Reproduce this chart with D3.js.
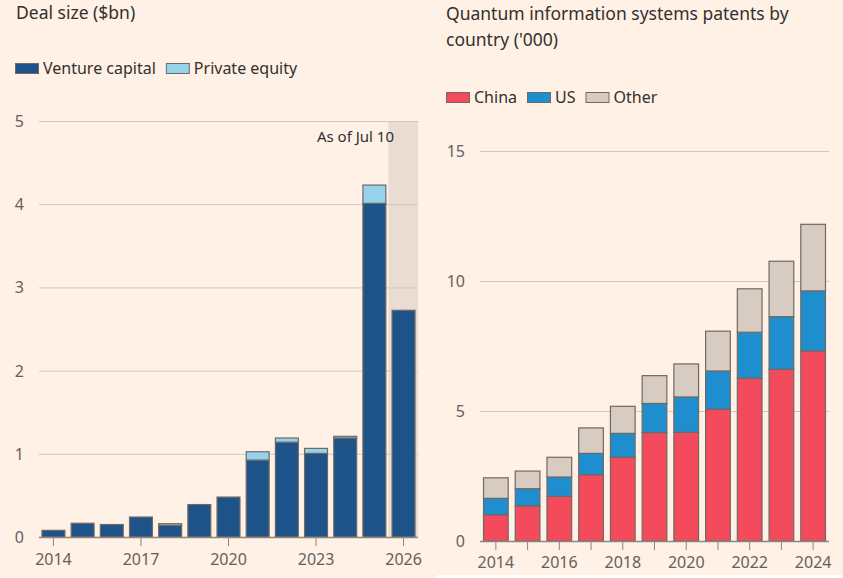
<!DOCTYPE html>
<html>
<head>
<meta charset="utf-8">
<script src="https://cdn.jsdelivr.net/npm/d3@7"></script>
<style>
  body { margin: 0; background: #fff1e5; }
  svg { display: block; font-family: "Noto Sans", sans-serif; }
</style>
</head>
<body>
<svg id="chart" width="843" height="578"></svg>
<script>
// ---- left chart data: deal size ($bn)
const dealYears = [2014, 2015, 2016, 2017, 2018, 2019, 2020, 2021, 2022, 2023, 2024, 2025, 2026];
const ventureCapital = [0.08, 0.165, 0.15, 0.24, 0.14, 0.39, 0.48, 0.925, 1.14, 1.005, 1.19, 4.01, 2.725];
const privateEquity = [0, 0, 0, 0, 0.02, 0, 0, 0.10, 0.05, 0.06, 0.02, 0.22, 0];
const dealTicks = [0, 1, 2, 3, 4, 5];
const dealYearLabels = [2014, 2017, 2020, 2023, 2026];

// ---- right chart data: patents ('000)
const patentYears = [2014, 2015, 2016, 2017, 2018, 2019, 2020, 2021, 2022, 2023, 2024];
const china = [1.01, 1.35, 1.72, 2.55, 3.22, 4.17, 4.18, 5.07, 6.26, 6.60, 7.31];
const us = [0.63, 0.66, 0.74, 0.82, 0.92, 1.12, 1.36, 1.47, 1.77, 2.03, 2.31];
const other = [0.79, 0.68, 0.76, 0.98, 1.04, 1.07, 1.27, 1.53, 1.67, 2.13, 2.56];
const patentTicks = [0, 5, 10, 15];
const patentYearLabels = [2014, 2016, 2018, 2020, 2022, 2024];

const textDark = "#33302e";
const textMid = "#66605c";
const gridCol = "#d3c7bd";
const barStroke = "#6f6963";

const svg = d3.select("#chart");

// white strip at the bottom of the right panel
svg.append("rect")
    .attr("x", 437).attr("y", 575)
    .attr("width", 406).attr("height", 3)
    .attr("fill", "#ffffff");

function drawLegend(g, items, x0, y0) {
    let x = x0;
    items.forEach(item => {
        g.append("rect")
            .attr("x", x + 0.5).attr("y", y0 + 0.5)
            .attr("width", 23).attr("height", 10)
            .attr("fill", item.color)
            .attr("stroke", barStroke)
            .attr("stroke-width", 1);
        const t = g.append("text")
            .attr("x", x + 28)
            .attr("y", y0 + 10.5)
            .attr("font-size", 16)
            .attr("fill", textDark)
            .text(item.label);
        x += 28 + t.node().getComputedTextLength() + item.gap;
    });
}

// ================= LEFT CHART =================
{
    const g = svg.append("g");
    const x = d3.scaleBand()
        .domain(dealYears)
        .range([39, 418])
        .paddingInner(0.18)
        .paddingOuter(0.085);
    const y = d3.scaleLinear().domain([0, 5]).range([537, 121]);

    g.append("text")
        .attr("x", 16).attr("y", 19)
        .attr("font-size", 17.5)
        .attr("fill", textDark)
        .text("Deal size ($bn)");

    drawLegend(g, [
        { label: "Venture capital", color: "#1d5389", gap: 10 },
        { label: "Private equity", color: "#96d3ea", gap: 10 }
    ], 15, 63);

    // shaded "as of" band behind last bar
    const lastYear = dealYears[dealYears.length - 1];
    const shadeX = x(lastYear) - x.step() * x.paddingInner() / 2 - 0.5;
    g.append("rect")
        .attr("x", shadeX)
        .attr("y", y(5))
        .attr("width", 418 - shadeX)
        .attr("height", y(0) - y(5))
        .attr("fill", "#e9dcd3");

    // gridlines + labels
    g.selectAll(".grid")
        .data(dealTicks.filter(d => d > 0))
        .enter().append("line")
        .attr("x1", 39).attr("x2", 418)
        .attr("y1", d => y(d) + 0.5).attr("y2", d => y(d) + 0.5)
        .attr("stroke", gridCol);
    g.selectAll(".ylab")
        .data(dealTicks)
        .enter().append("text")
        .attr("x", 24).attr("y", d => y(d) + 6)
        .attr("text-anchor", "end")
        .attr("font-size", 16)
        .attr("fill", textMid)
        .text(d => d);

    g.append("text")
        .attr("x", 394).attr("y", 141.5)
        .attr("text-anchor", "end")
        .attr("font-size", 15)
        .attr("fill", textDark)
        .text("As of Jul 10");

    const stack = d3.stack().keys(["vc", "pe"])(
        dealYears.map((yr, i) => ({ year: yr, vc: ventureCapital[i], pe: privateEquity[i] }))
    );
    const cols = { vc: "#1d5389", pe: "#96d3ea" };
    stack.forEach(layer => {
        g.selectAll(".bar-" + layer.key)
            .data(layer.filter(d => d[1] - d[0] > 0))
            .enter().append("rect")
            .attr("x", d => x(d.data.year) + 0.5)
            .attr("width", x.bandwidth() - 1)
            .attr("y", d => y(d[1]))
            .attr("height", d => y(d[0]) - y(d[1]))
            .attr("fill", cols[layer.key])
            .attr("stroke", barStroke)
            .attr("stroke-width", 1.2);
    });

    // x axis
    g.append("line")
        .attr("x1", 39).attr("x2", 418)
        .attr("y1", y(0) + 0.5).attr("y2", y(0) + 0.5)
        .attr("stroke", "#8d8580").attr("stroke-width", 1.5);
    const ticks = g.selectAll(".xt")
        .data(dealYearLabels)
        .enter().append("g")
        .attr("transform", d => `translate(${x(d) + x.bandwidth() / 2},${y(0)})`);
    ticks.append("line").attr("y1", 1).attr("y2", 9).attr("stroke", "#8d8580");
    ticks.append("text")
        .attr("y", 28)
        .attr("text-anchor", "middle")
        .attr("font-size", 16)
        .attr("fill", textMid)
        .text(d => d);
}

// ================= RIGHT CHART =================
{
    const g = svg.append("g");
    const x = d3.scaleBand()
        .domain(patentYears)
        .range([480, 829])
        .paddingInner(0.19)
        .paddingOuter(0.095);
    const y = d3.scaleLinear().domain([0, 15]).range([541, 151]);

    g.append("text")
        .attr("x", 446).attr("y", 20)
        .attr("font-size", 17.5)
        .attr("fill", textDark)
        .text("Quantum information systems patents by");
    g.append("text")
        .attr("x", 446).attr("y", 46)
        .attr("font-size", 17.5)
        .attr("fill", textDark)
        .text("country ('000)");

    drawLegend(g, [
        { label: "China", color: "#f34b5b", gap: 10 },
        { label: "US", color: "#1e8ecf", gap: 10 },
        { label: "Other", color: "#d8cbc1", gap: 10 }
    ], 446, 92);

    g.selectAll(".grid")
        .data(patentTicks.filter(d => d > 0))
        .enter().append("line")
        .attr("x1", 480).attr("x2", 829)
        .attr("y1", d => y(d) + 0.5).attr("y2", d => y(d) + 0.5)
        .attr("stroke", gridCol);
    g.selectAll(".ylab")
        .data(patentTicks)
        .enter().append("text")
        .attr("x", 465).attr("y", d => y(d) + 6)
        .attr("text-anchor", "end")
        .attr("font-size", 16)
        .attr("fill", textMid)
        .text(d => d);

    const stack = d3.stack().keys(["china", "us", "other"])(
        patentYears.map((yr, i) => ({ year: yr, china: china[i], us: us[i], other: other[i] }))
    );
    const cols = { china: "#f34b5b", us: "#1e8ecf", other: "#d8cbc1" };
    stack.forEach(layer => {
        g.selectAll(".bar-" + layer.key)
            .data(layer)
            .enter().append("rect")
            .attr("x", d => x(d.data.year) + 0.5)
            .attr("width", x.bandwidth() - 1)
            .attr("y", d => y(d[1]))
            .attr("height", d => y(d[0]) - y(d[1]))
            .attr("fill", cols[layer.key])
            .attr("stroke", barStroke)
            .attr("stroke-width", 1.2);
    });

    g.append("line")
        .attr("x1", 480).attr("x2", 829)
        .attr("y1", y(0) + 0.5).attr("y2", y(0) + 0.5)
        .attr("stroke", "#8d8580").attr("stroke-width", 1.5);
    const ticks = g.selectAll(".xt")
        .data(patentYears)
        .enter().append("g")
        .attr("transform", d => `translate(${x(d) + x.bandwidth() / 2},${y(0)})`);
    ticks.append("line").attr("y1", 1).attr("y2", 9).attr("stroke", "#8d8580");
    ticks.filter(d => patentYearLabels.includes(d))
        .append("text")
        .attr("y", 27)
        .attr("text-anchor", "middle")
        .attr("font-size", 16)
        .attr("fill", textMid)
        .text(d => d);
}
</script>
</body>
</html>
